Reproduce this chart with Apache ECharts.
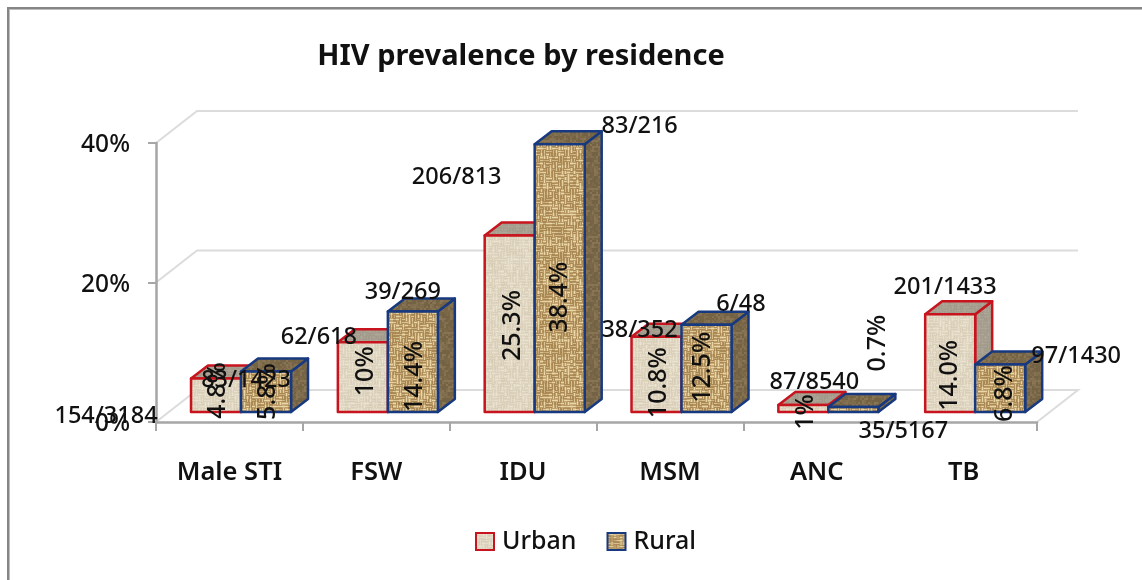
<!DOCTYPE html>
<html>
<head>
<meta charset="utf-8">
<style>
html,body{margin:0;padding:0;background:#fff}
#chart{width:1142px;height:580px;filter:blur(0.6px)}
</style>
<script src="https://cdn.jsdelivr.net/npm/echarts@6/dist/echarts.min.js"></script>
</head>
<body>
<div id="chart"></div>
<script>
var categories = ['Male STI','FSW','IDU','MSM','ANC','TB'];
var urbanValues = [4.8,10,25.3,10.8,1,14.0];
var ruralValues = [5.8,14.4,38.4,12.5,0.7,6.8];
var urbanPctLabels = ['4.8%','10%','25.3%','10.8%','1%','14.0%'];
var ruralPctLabels = ['5.8%','14.4%','38.4%','12.5%','0.7%','6.8%'];
var urbanRatios = ['154/3184','62/618','206/813','38/352','87/8540','201/1433'];
var ruralRatios = ['83/1423','39/269','83/216','6/48','35/5167','97/1430'];
var yTicks = [0,20,40];

// label nudges relative to each bar's top-centre (the source labels were hand placed)
var urbanPctNudge = [[2,12],[3,29],[3,90],[2,46],[3,7],[0,61]];
var ruralPctNudge = [[2,20],[2,65],[0,153],[-3.5,42.5],[25,-64],[5,29]];
var urbanRatioNudge = [[-110,37.5],[-44,-4.5],[-53,-58.5],[-17,-6.5],[11,-22.5],[-5,-27.5]];
var ruralRatioNudge = [[-20,8.5],[-10,-19.5],[80,-17.5],[34.5,-21],[50,24.5],[76,-8.5]];

var FONT = '"Noto Sans", sans-serif';
var WALL = {dx:41, dy:-32};
var FRONT = {dx:11.6, dy:-10};
var DEPTH = {dx:17, dy:-13};
var BAR_FRACTION = 0.3405;

function hash(a,b,s){var v=Math.sin(a*12.9898+b*78.233+s*37.719)*43758.5453;return v-Math.floor(v);}
function mix(c1,c2,t){return 'rgb('+[0,1,2].map(function(i){return Math.round(c1[i]+(c2[i]-c1[i])*t);}).join(',')+')';}
function texture(size,cell,dark,light,contrast,seed){
  var c=document.createElement('canvas');c.width=c.height=size;var g=c.getContext('2d');
  var n=Math.round(size/cell);
  for(var i=0;i<n;i++)for(var j=0;j<n;j++){
    var over=(Math.floor(i/2)+Math.floor(j/2))%2===0;
    if(hash(i,j,seed+9)>0.78)over=!over;
    for(var k=0;k<cell;k++){
      var edge=(k===0||k===cell-1)?-contrast*0.5:contrast*0.4;
      var t=0.5+edge+(hash(i,j,seed)-0.5)*contrast;
      t=Math.max(0,Math.min(1,t));
      g.fillStyle=mix(dark,light,t);
      if(over)g.fillRect(i*cell,j*cell+k,cell,1);else g.fillRect(i*cell+k,j*cell,1,cell);
    }
  }
  return c;
}
var urbanFront={image:texture(96,3,[214,203,180],[238,231,214],0.45,1),repeat:'repeat'};
var urbanShade={image:texture(48,3,[160,152,136],[176,168,152],0.5,2),repeat:'repeat'};
var ruralFront={image:texture(96,3,[170,136,84],[234,214,166],0.8,3),repeat:'repeat'};
var ruralShade={image:texture(48,2,[116,98,68],[160,138,100],0.7,4),repeat:'repeat'};

function barRenderer(front,shade,stroke){
  return function(params,api){
    var idx=api.value(0),val=api.value(1);
    var top=api.coord([idx,val]),base=api.coord([idx,0]);
    var w=api.size([1,0])[0]*BAR_FRACTION;
    var off=params.seriesName==='Urban'?-w:0;
    var x0=top[0]+FRONT.dx+off,x1=x0+w;
    var yt=top[1]+FRONT.dy,yb=base[1]+FRONT.dy;
    var d=DEPTH,ls={stroke:stroke,lineWidth:2.5,lineJoin:'round'};
    return {type:'group',children:[
      {type:'polygon',shape:{points:[[x1,yt],[x1+d.dx,yt+d.dy],[x1+d.dx,yb+d.dy],[x1,yb]]},style:Object.assign({fill:shade},ls)},
      {type:'polygon',shape:{points:[[x0,yt],[x0+d.dx,yt+d.dy],[x1+d.dx,yt+d.dy],[x1,yt]]},style:Object.assign({fill:shade},ls)},
      {type:'rect',shape:{x:x0,y:yt,width:w,height:yb-yt},style:Object.assign({fill:front},ls)}
    ]};
  };
}
function labelRenderer(texts,pctNudge,ratios,ratioNudge,offsetSign){
  return function(params,api){
    var idx=api.value(0),val=api.value(1);
    var top=api.coord([idx,val]);
    var w=api.size([1,0])[0]*BAR_FRACTION;
    var cx=top[0]+FRONT.dx+offsetSign*w/2,cy=top[1]+FRONT.dy;
    var pn=pctNudge[idx],rn=ratioNudge[idx];
    return {type:'group',children:[
      {type:'text',x:cx+pn[0],y:cy+pn[1],rotation:Math.PI/2,style:{text:texts[idx],fontSize:25,fontFamily:FONT,fontWeight:500,fill:'#111',align:'center',verticalAlign:'middle'}},
      {type:'text',x:cx+rn[0],y:cy+rn[1],style:{text:ratios[idx],fontSize:23.5,fontFamily:FONT,fontWeight:500,fill:'#111',align:'center',verticalAlign:'middle'}}
    ]};
  };
}
function pairs(vals){return vals.map(function(v,i){return [i,v];});}

var chart=echarts.init(document.getElementById('chart'),null,{renderer:'canvas'});
chart.setOption({
  animation:false,
  backgroundColor:'#fff',
  title:{text:'HIV prevalence by residence',left:516,top:37,textAlign:'center',textStyle:{fontFamily:FONT,fontSize:29,fontWeight:'bold',color:'#111'}},
  legend:{
    data:['Urban','Rural'],left:475,top:529,padding:0,icon:'rect',itemWidth:18,itemHeight:17,itemGap:30,
    textStyle:{fontFamily:FONT,fontSize:25,fontWeight:500,color:'#111',padding:[0,0,0,3]},selectedMode:false
  },
  grid:{left:156,right:105,top:143,bottom:158},
  xAxis:{type:'category',data:categories,
    axisLine:{lineStyle:{color:'#a6a6a6',width:2.5}},
    axisTick:{show:true,length:9,lineStyle:{color:'#a6a6a6',width:2}},
    axisLabel:{margin:38,fontFamily:FONT,fontSize:25.5,fontWeight:600,color:'#111',interval:0},
    z:3},
  yAxis:{type:'value',min:0,max:40,interval:20,
    axisLine:{show:true,lineStyle:{color:'#a6a6a6',width:2.5}},
    axisTick:{show:true,length:8,lineStyle:{color:'#a6a6a6',width:2}},
    axisLabel:{margin:26,color:'#111',formatter:'{t|{value}%}',
      rich:{t:{fontFamily:FONT,fontSize:24.5,fontWeight:500,color:'#111',padding:[5,0,0,0]}}},
    splitLine:{show:false},z:3},
  graphic:[
    {type:'rect',shape:{x:7,y:7,width:1135,height:2},style:{fill:'#868686'},silent:true},
    {type:'rect',shape:{x:7,y:9,width:1135,height:1},style:{fill:'#bdbdbd'},silent:true},
    {type:'rect',shape:{x:7,y:7,width:2,height:573},style:{fill:'#868686'},silent:true},
    {type:'rect',shape:{x:9,y:10,width:1,height:570},style:{fill:'#bdbdbd'},silent:true}
  ],
  series:[
    {type:'custom',z:1,silent:true,data:yTicks.map(function(t){return [t];}),encode:{y:0},
      renderItem:function(params,api){
        var v=api.value(0),p=api.coord([0,v]),band=api.size([1,0])[0];
        var x0=p[0]-band/2,x1=api.coord([categories.length-1,v])[0]+band/2;
        var pts=[[x0,p[1]],[x0+WALL.dx,p[1]+WALL.dy],[x1+WALL.dx,p[1]+WALL.dy]];
        if(v===0)pts.push([x1,p[1]]);
        return {type:'polyline',shape:{points:pts},style:{stroke:'#dcdcdc',lineWidth:2,fill:null}};
      }},
    {name:'Urban',type:'custom',z:4,data:pairs(urbanValues),encode:{x:0,y:1},
      itemStyle:{color:urbanFront,borderColor:'#c8141e',borderWidth:3},
      renderItem:barRenderer(urbanFront,urbanShade,'#c8141e')},
    {name:'Rural',type:'custom',z:5,data:pairs(ruralValues),encode:{x:0,y:1},
      itemStyle:{color:ruralFront,borderColor:'#17397f',borderWidth:3},
      renderItem:barRenderer(ruralFront,ruralShade,'#17397f')},
    {type:'custom',z:6,silent:true,data:pairs(urbanValues),encode:{x:0,y:1},
      renderItem:labelRenderer(urbanPctLabels,urbanPctNudge,urbanRatios,urbanRatioNudge,-1)},
    {type:'custom',z:6,silent:true,data:pairs(ruralValues),encode:{x:0,y:1},
      renderItem:labelRenderer(ruralPctLabels,ruralPctNudge,ruralRatios,ruralRatioNudge,1)}
  ]
});
</script>
</body>
</html>
